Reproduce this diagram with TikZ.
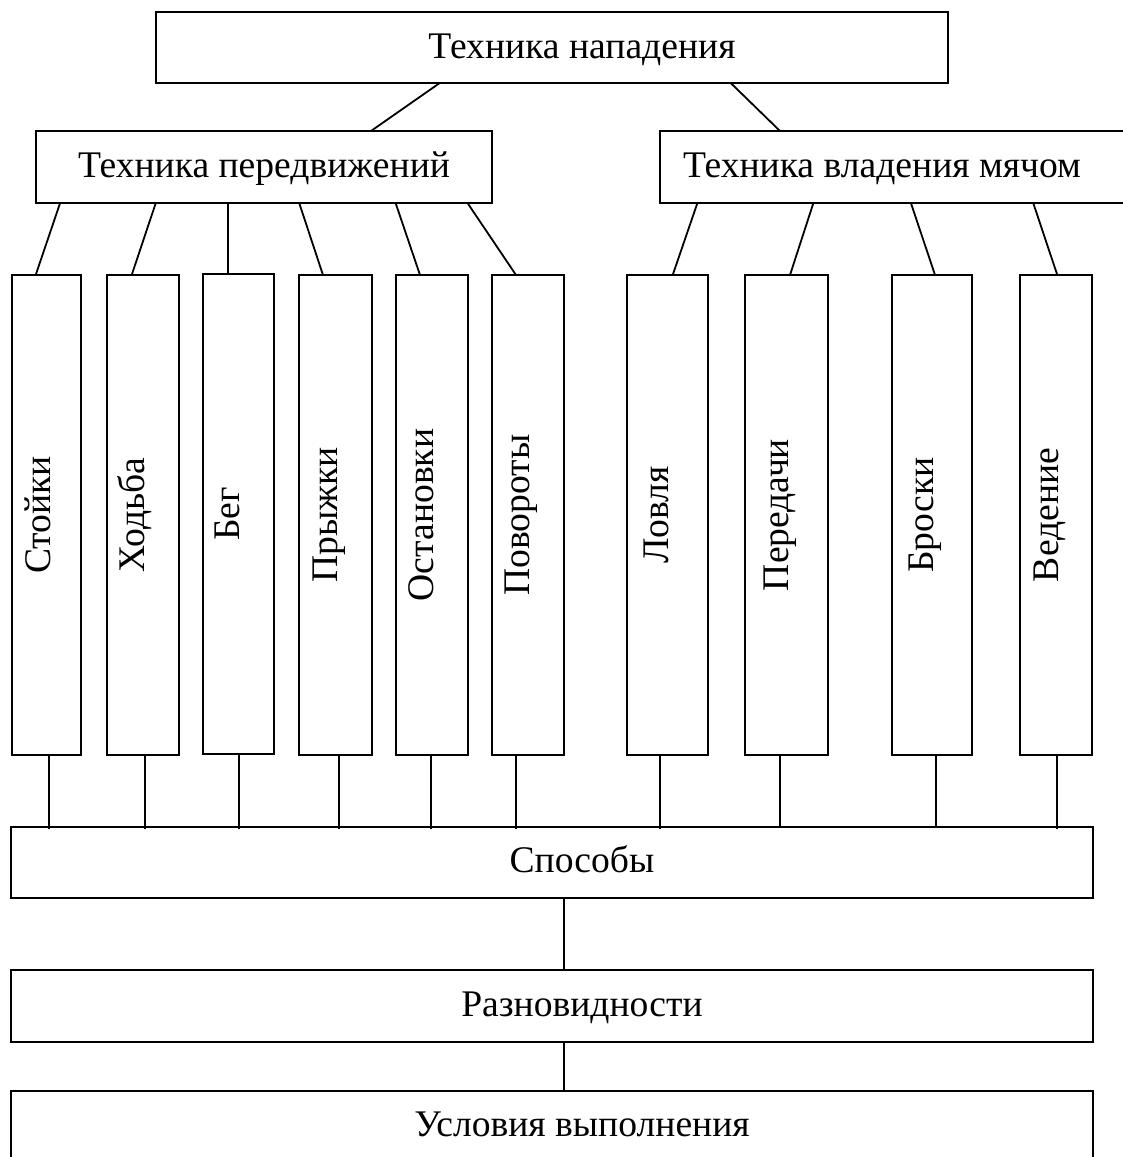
\documentclass[tikz,border=0pt]{standalone}
\usepackage{fontspec}
\setmainfont{Liberation Serif}
\begin{document}
\begin{tikzpicture}[x=1pt,y=-1pt,
  box/.style={draw, line width=2pt, rectangle, inner sep=0pt, outer sep=0pt},
  txt/.style={font=\fontsize{37.6}{40}\selectfont, inner sep=0pt, outer sep=0pt, anchor=base},
  vtxt/.style={txt, rotate=90},
  link/.style={line width=1.8pt},
  over/.style={link, shorten >=-2.5pt}]
\useasboundingbox (0,0) rectangle (1123,1157);
% boxes
\node[box, minimum width=792.5pt, minimum height=71.3pt] (top) at (551.75,47.65) {};
\node[box, minimum width=456.3pt, minimum height=72.3pt] (pered) at (263.85,167.15) {};
\node[box, minimum width=480pt, minimum height=72.3pt] (vlad) at (900,167.15) {};
\node[box, minimum width=69pt, minimum height=480pt] (stoiki) at (46.2,515) {};
\node[box, minimum width=71.7pt, minimum height=480pt] (hod) at (143.15,515) {};
\node[box, minimum width=71pt, minimum height=480.3pt] (beg) at (238.5,513.85) {};
\node[box, minimum width=72.7pt, minimum height=480pt] (pry) at (335.35,515) {};
\node[box, minimum width=72pt, minimum height=480pt] (ost) at (431.7,515) {};
\node[box, minimum width=72pt, minimum height=480pt] (pov) at (527.7,515) {};
\node[box, minimum width=81.6pt, minimum height=480pt] (lov) at (667.5,515) {};
\node[box, minimum width=83.3pt, minimum height=480pt] (per) at (786.65,515) {};
\node[box, minimum width=80pt, minimum height=480pt] (bro) at (931.7,515) {};
\node[box, minimum width=72.3pt, minimum height=480pt] (ved) at (1056.15,515) {};
\node[box, minimum width=1082pt, minimum height=71.6pt] (spos) at (552,862.5) {};
\node[box, minimum width=1082pt, minimum height=72.3pt] (razn) at (552,1006.15) {};
\node[box, minimum width=1082pt, minimum height=72.3pt] (usl) at (552,1126.85) {};
% texts
\node[txt] (ttop) at (582,58) {Техника нападения};
\node[txt] (tpered) at (264,177.3) {Техника передвижений};
\node[txt, anchor=base west] (tvlad) at (683,177.3) {Техника владения мячом};
\node[txt] (tspos) at (582,872.7) {Способы};
\node[txt] (trazn) at (582,1016) {Разновидности};
\node[txt] (tusl) at (582,1136.7) {Условия выполнения};
\node[vtxt] (tstoiki) at (50,515) {Стойки};
\node[vtxt] (thod) at (144.7,515) {Ходьба};
\node[vtxt] (tbeg) at (239.3,513.85) {Бег};
\node[vtxt] (tpry) at (337.3,515) {Прыжки};
\node[vtxt] (tost) at (433.5,515) {Остановки};
\node[vtxt] (tpov) at (529.5,515) {Повороты};
\node[vtxt] (tlov) at (668.5,515) {Ловля};
\node[vtxt] (tper) at (788.3,515) {Передачи};
\node[vtxt] (tbro) at (933.5,515) {Броски};
\node[vtxt] (tved) at (1058,515) {Ведение};
% top connectors
\draw[link] ([xshift=283.8pt]top.south west) -- ([xshift=335.3pt]pered.north west);
\draw[link] ([xshift=575.5pt]top.south west) -- ([xshift=120pt]vlad.north west);
\draw[link] ([xshift=24.3pt]pered.south west) -- ([xshift=24pt]stoiki.north west);
\draw[link] ([xshift=120pt]pered.south west) -- ([xshift=24.4pt]hod.north west);
\draw[link] ([xshift=192.3pt]pered.south west) -- ([xshift=25pt]beg.north west);
\draw[link] ([xshift=263.6pt]pered.south west) -- ([xshift=24pt]pry.north west);
\draw[link] ([xshift=360pt]pered.south west) -- ([xshift=24.3pt]ost.north west);
\draw[link] ([xshift=432pt]pered.south west) -- ([xshift=24.3pt]pov.north west);
\draw[link] ([xshift=37.3pt]vlad.south west) -- ([xshift=46pt]lov.north west);
\draw[link] ([xshift=153.3pt]vlad.south west) -- ([xshift=45pt]per.north west);
\draw[link] ([xshift=251pt]vlad.south west) -- ([xshift=43.3pt]bro.north west);
\draw[link] ([xshift=373.3pt]vlad.south west) -- ([xshift=37.3pt]ved.north west);
% bottom connectors
\draw[over] ([xshift=36.9pt]stoiki.south west) coordinate (b1) -- (b1 |- spos.north);
\draw[over] ([xshift=37.4pt]hod.south west) coordinate (b2) -- (b2 |- spos.north);
\draw[over] ([xshift=35.8pt]beg.south west) coordinate (b3) -- (b3 |- spos.north);
\draw[over] ([xshift=40pt]pry.south west) coordinate (b4) -- (b4 |- spos.north);
\draw[over] ([xshift=35.6pt]ost.south west) coordinate (b5) -- (b5 |- spos.north);
\draw[over] ([xshift=24.6pt]pov.south west) coordinate (b6) -- (b6 |- spos.north);
\draw[over] ([xshift=33.1pt]lov.south west) coordinate (b7) -- (b7 |- spos.north);
\draw[link] ([xshift=34.7pt]per.south west) coordinate (b8) -- (b8 |- spos.north);
\draw[link] ([xshift=43.9pt]bro.south west) coordinate (b9) -- (b9 |- spos.north);
\draw[over] ([xshift=37.3pt]ved.south west) coordinate (b10) -- (b10 |- spos.north);
\draw[link] ([xshift=553pt]spos.south west) coordinate (c1) -- (c1 |- razn.north);
\draw[link] ([xshift=553pt]razn.south west) coordinate (c2) -- (c2 |- usl.north);
\end{tikzpicture}
\end{document}
